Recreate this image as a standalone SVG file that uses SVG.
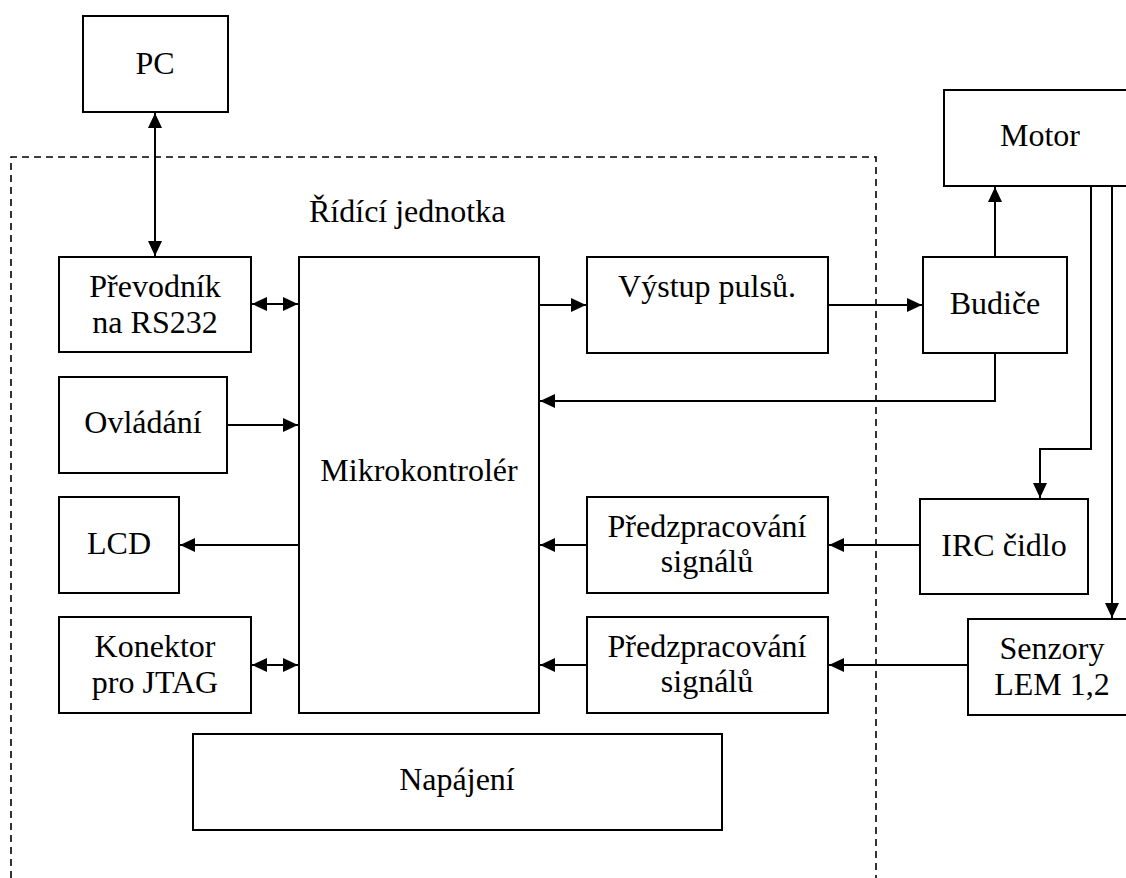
<svg xmlns="http://www.w3.org/2000/svg" width="1126" height="878" viewBox="0 0 1126 878">
  <style>
    .box { fill: #fff; stroke: #000; stroke-width: 2; }
    .lbl { font-family: 'Liberation Serif', 'DejaVu Serif', serif; font-size: 32px; fill: #000; text-anchor: middle; }
    .wire { fill: none; stroke: #000; stroke-width: 2; }
    .frame { fill: none; stroke: #000; stroke-width: 1.6; stroke-dasharray: 7 5; }
  </style>
  <defs>
    <marker id="arrow" markerUnits="userSpaceOnUse" markerWidth="16" markerHeight="14" refX="15" refY="7" orient="auto-start-reverse">
      <path d="M0,0 L15,7 L0,14 Z" fill="#000"/>
    </marker>
  </defs>
  <rect width="1126" height="878" fill="#fff"/>

  <!-- control unit boundary -->
  <g id="ridici-jednotka">
    <path class="frame" d="M11,878 V157 H876 V878"/>
    <text class="lbl" x="309" y="222" style="text-anchor:start">Řídící jednotka</text>
  </g>

  <g id="pc">
    <rect class="box" x="83" y="16" width="145" height="96"/>
    <text class="lbl" x="155" y="74">PC</text>
  </g>
  <g id="prevodnik">
    <rect class="box" x="59" y="257" width="192" height="95"/>
    <text class="lbl" x="155" y="297">Převodník</text>
    <text class="lbl" x="155" y="333">na RS232</text>
  </g>
  <g id="ovladani">
    <rect class="box" x="59" y="377" width="168" height="96"/>
    <text class="lbl" x="143" y="433">Ovládání</text>
  </g>
  <g id="lcd">
    <rect class="box" x="59" y="497" width="120" height="96"/>
    <text class="lbl" x="119" y="554">LCD</text>
  </g>
  <g id="konektor">
    <rect class="box" x="59" y="617" width="192" height="96"/>
    <text class="lbl" x="155" y="657">Konektor</text>
    <text class="lbl" x="155" y="693">pro JTAG</text>
  </g>
  <g id="mikrokontroler">
    <rect class="box" x="299" y="257" width="240" height="456"/>
    <text class="lbl" x="419" y="481">Mikrokontrolér</text>
  </g>
  <g id="vystup">
    <rect class="box" x="587" y="257" width="241" height="96"/>
    <text class="lbl" x="707" y="297">Výstup pulsů.</text>
  </g>
  <g id="predzpracovani-1">
    <rect class="box" x="587" y="497" width="241" height="96"/>
    <text class="lbl" x="707" y="537">Předzpracování</text>
    <text class="lbl" x="707" y="572">signálů</text>
  </g>
  <g id="predzpracovani-2">
    <rect class="box" x="587" y="617" width="241" height="96"/>
    <text class="lbl" x="707" y="657">Předzpracování</text>
    <text class="lbl" x="707" y="692">signálů</text>
  </g>
  <g id="napajeni">
    <rect class="box" x="193" y="734" width="529" height="96"/>
    <text class="lbl" x="457" y="790">Napájení</text>
  </g>
  <g id="motor">
    <rect class="box" x="944" y="90" width="192" height="96"/>
    <text class="lbl" x="1040" y="146">Motor</text>
  </g>
  <g id="budice">
    <rect class="box" x="923" y="257" width="144" height="96"/>
    <text class="lbl" x="995" y="314">Budiče</text>
  </g>
  <g id="irc">
    <rect class="box" x="920" y="499" width="168" height="95"/>
    <text class="lbl" x="1004" y="556">IRC čidlo</text>
  </g>
  <g id="senzory">
    <rect class="box" x="968" y="619" width="168" height="96"/>
    <text class="lbl" x="1052" y="659">Senzory</text>
    <text class="lbl" x="1052" y="695">LEM 1,2</text>
  </g>

  <!-- signal connections -->
  <g id="connectors">
    <line class="wire" x1="155" y1="113" x2="155" y2="256" marker-start="url(#arrow)" marker-end="url(#arrow)"/>
    <line class="wire" x1="252" y1="304" x2="298" y2="304" marker-start="url(#arrow)" marker-end="url(#arrow)"/>
    <line class="wire" x1="227" y1="425" x2="298" y2="425" marker-end="url(#arrow)"/>
    <line class="wire" x1="299" y1="545" x2="180" y2="545" marker-end="url(#arrow)"/>
    <line class="wire" x1="252" y1="665" x2="298" y2="665" marker-start="url(#arrow)" marker-end="url(#arrow)"/>
    <line class="wire" x1="539" y1="305" x2="586" y2="305" marker-end="url(#arrow)"/>
    <line class="wire" x1="828" y1="305" x2="922" y2="305" marker-end="url(#arrow)"/>
    <line class="wire" x1="995" y1="257" x2="995" y2="187" marker-end="url(#arrow)"/>
    <path class="wire" d="M995,353 V401 H540" marker-end="url(#arrow)"/>
    <path class="wire" d="M1091,186 V449 H1040 V498" marker-end="url(#arrow)"/>
    <path class="wire" d="M1112,186 V618" marker-end="url(#arrow)"/>
    <line class="wire" x1="920" y1="545" x2="829" y2="545" marker-end="url(#arrow)"/>
    <line class="wire" x1="968" y1="665" x2="829" y2="665" marker-end="url(#arrow)"/>
    <line class="wire" x1="587" y1="545" x2="540" y2="545" marker-end="url(#arrow)"/>
    <line class="wire" x1="587" y1="665" x2="540" y2="665" marker-end="url(#arrow)"/>
  </g>
</svg>
